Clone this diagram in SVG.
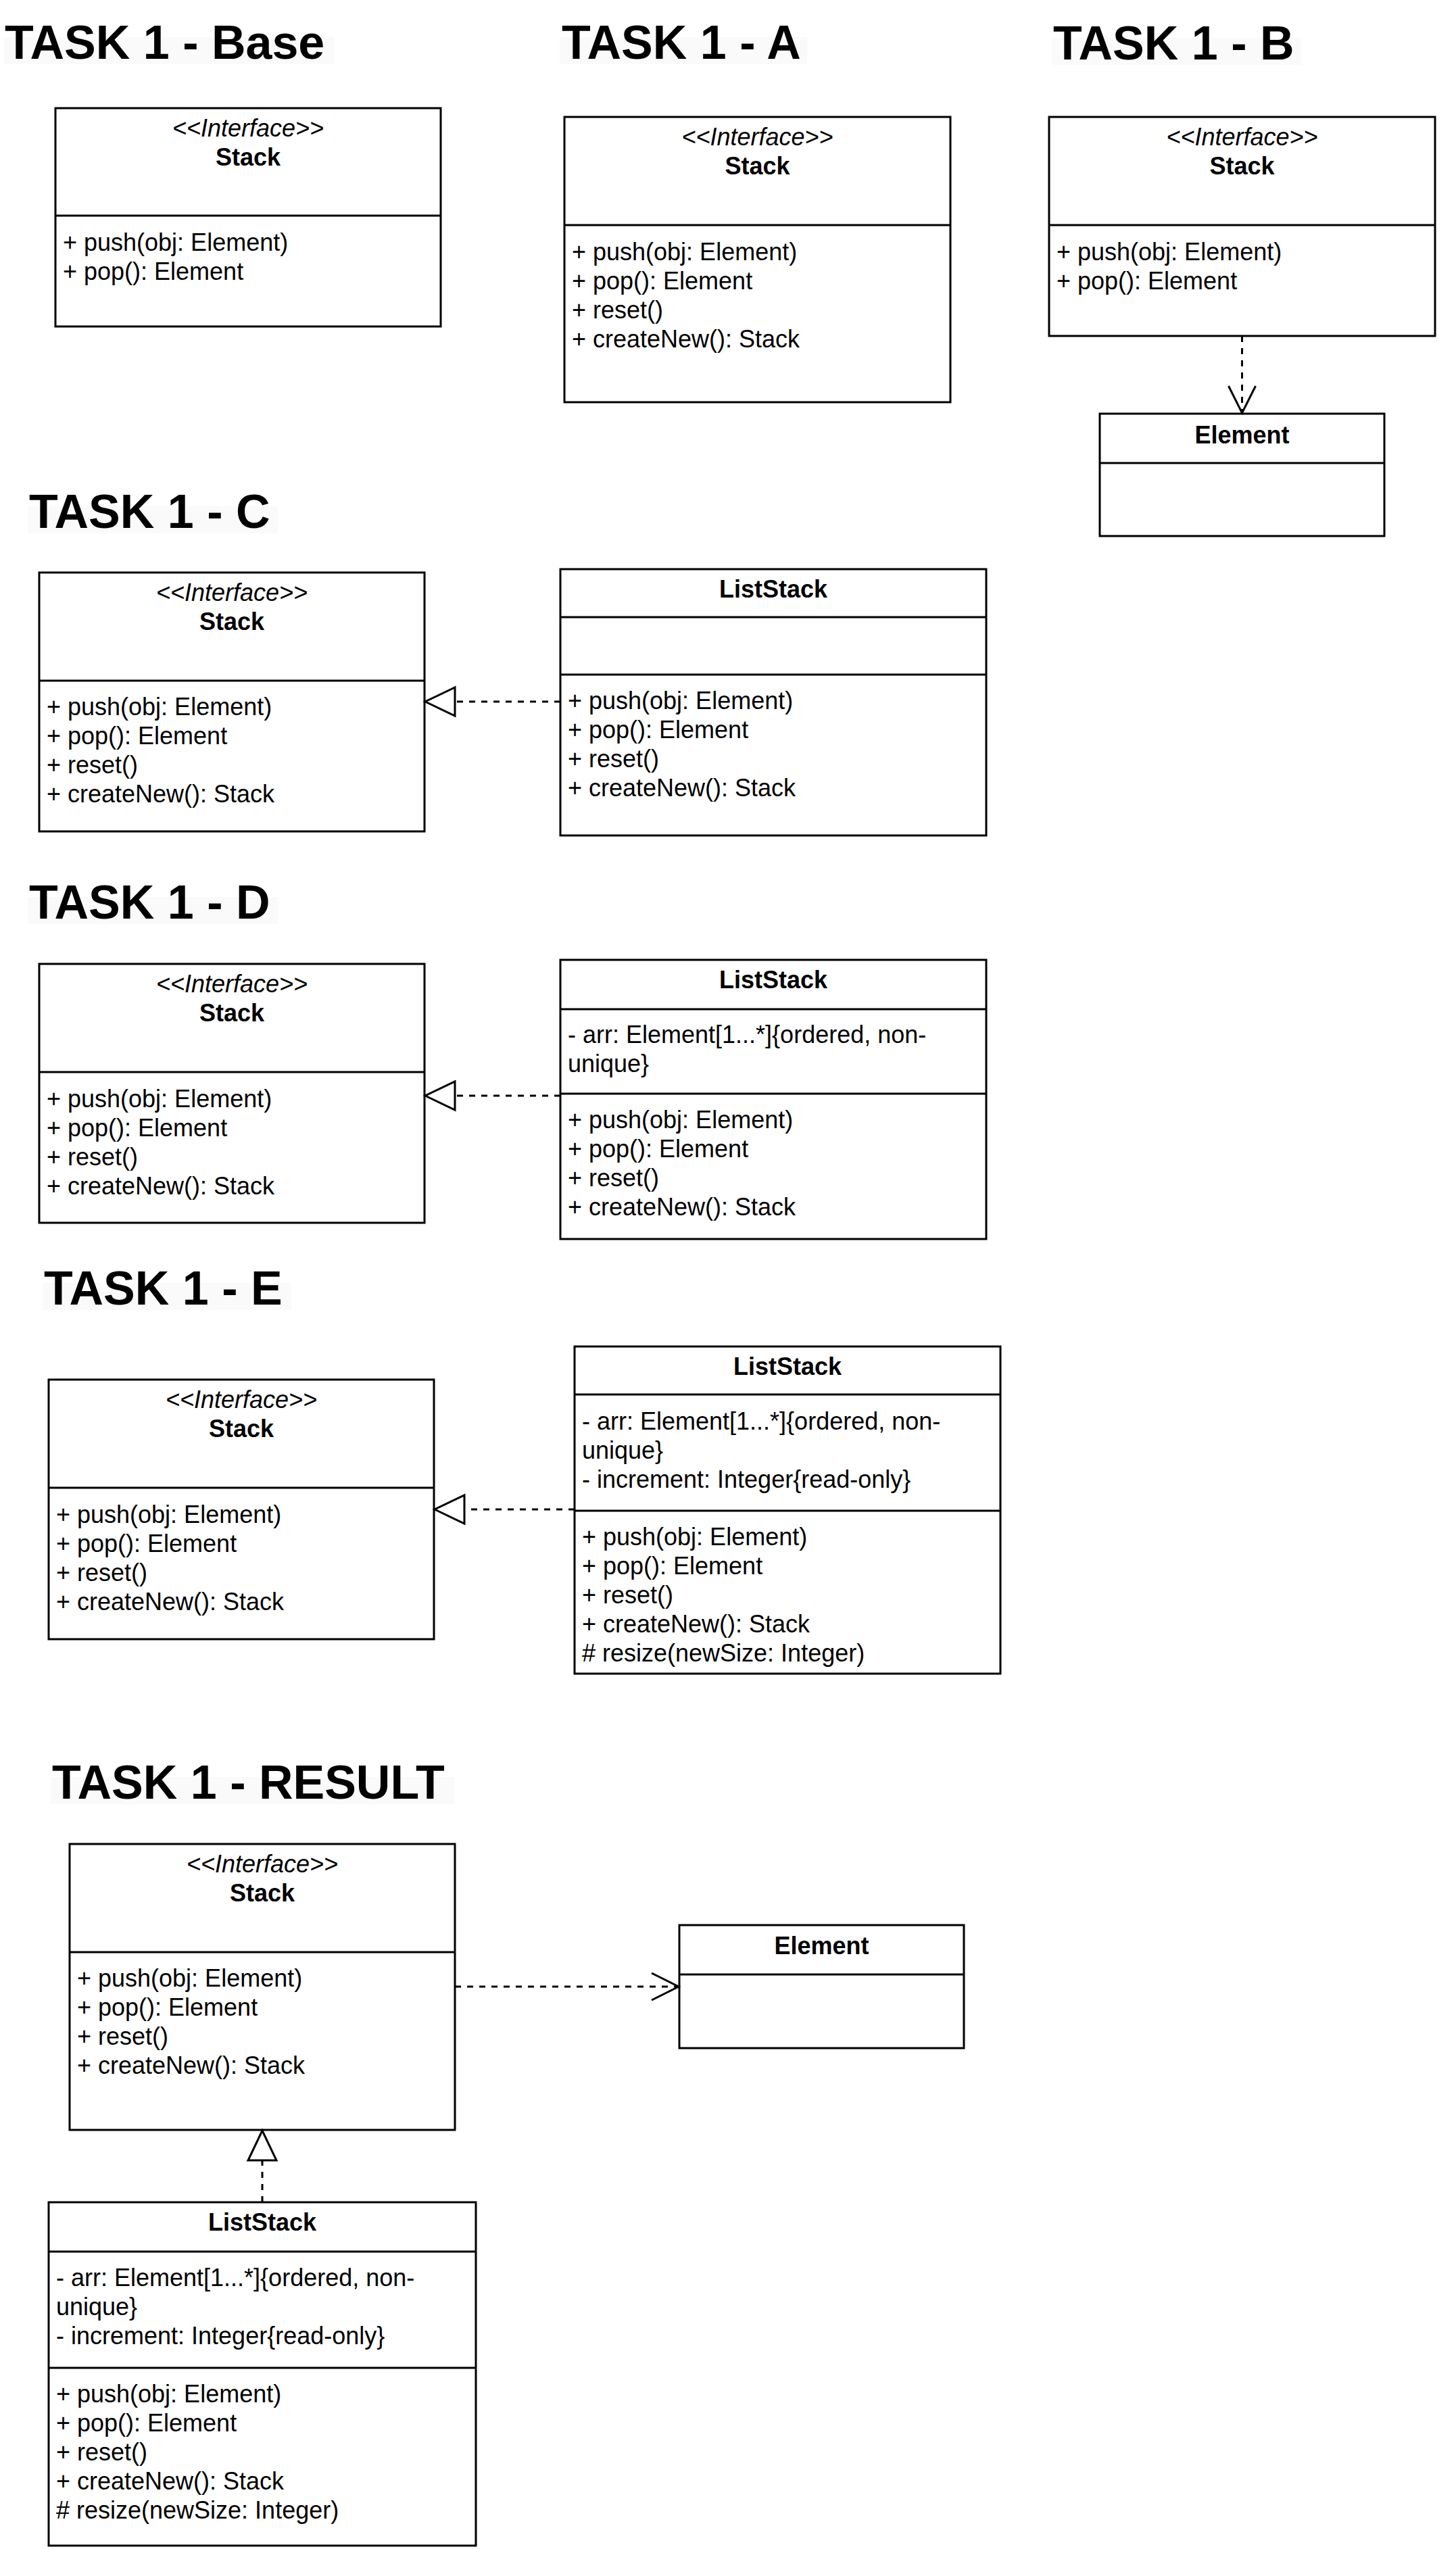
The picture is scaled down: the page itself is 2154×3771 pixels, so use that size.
<svg xmlns="http://www.w3.org/2000/svg" width="2154" height="3771" viewBox="0 0 2154 3771">
<style>
text{font-family:"Liberation Sans",Arial,sans-serif;fill:#000}
.title{font-size:70px;font-weight:bold}
.tbg{fill:#fafafa}
.box{fill:#fff;stroke:#000;stroke-width:3}
.div{stroke:#000;stroke-width:3}
.st{font-size:36px;font-style:italic;text-anchor:middle}
.nm{font-size:36px;font-weight:bold;text-anchor:middle}
.it{font-size:36px}
.dash{fill:none;stroke:#000;stroke-width:3;stroke-dasharray:9 9}
</style>
<defs>
<marker id="tri" markerUnits="userSpaceOnUse" markerWidth="54" markerHeight="54" viewBox="-49 -27 54 54" refX="0" refY="0" orient="auto">
<path d="M0,0 L-44,-21 L-44,21 Z" fill="#fff" stroke="#000" stroke-width="3"/>
</marker>
<marker id="open" markerUnits="userSpaceOnUse" markerWidth="54" markerHeight="54" viewBox="-49 -27 54 54" refX="0" refY="0" orient="auto">
<path d="M-40,-20 L0,0 L-40,20" fill="none" stroke="#000" stroke-width="3"/>
</marker>
</defs>
<rect width="2154" height="3771" fill="#fff"/>

<g id="titles">
<rect class="tbg" x="6" y="55" width="489" height="40"/>
<text class="title" x="7" y="87">TASK 1 - Base</text>
<rect class="tbg" x="828" y="55" width="366" height="40"/>
<text class="title" x="831" y="87">TASK 1 - A</text>
<rect class="tbg" x="1556" y="56" width="369" height="40"/>
<text class="title" x="1558" y="88">TASK 1 - B</text>
<rect class="tbg" x="41" y="749" width="370" height="40"/>
<text class="title" x="43" y="781">TASK 1 - C</text>
<rect class="tbg" x="41" y="1327" width="370" height="40"/>
<text class="title" x="43" y="1359">TASK 1 - D</text>
<rect class="tbg" x="63" y="1898" width="368" height="40"/>
<text class="title" x="65" y="1930">TASK 1 - E</text>
<rect class="tbg" x="75" y="2629" width="598" height="40"/>
<text class="title" x="77" y="2661">TASK 1 - RESULT</text>
</g>

<g id="base-stack">
<rect class="box" x="82" y="160" width="570" height="323"/>
<line class="div" x1="82" y1="319" x2="652" y2="319"/>
<text class="st" x="367" y="202">&lt;&lt;Interface&gt;&gt;</text>
<text class="nm" x="367" y="245">Stack</text>
<text class="it" x="93" y="371">+ push(obj: Element)</text>
<text class="it" x="93" y="414">+ pop(): Element</text>
</g>

<g id="a-stack">
<rect class="box" x="835" y="173" width="571" height="422"/>
<line class="div" x1="835" y1="333" x2="1406" y2="333"/>
<text class="st" x="1120.5" y="215">&lt;&lt;Interface&gt;&gt;</text>
<text class="nm" x="1120.5" y="258">Stack</text>
<text class="it" x="846" y="385">+ push(obj: Element)</text>
<text class="it" x="846" y="428">+ pop(): Element</text>
<text class="it" x="846" y="471">+ reset()</text>
<text class="it" x="846" y="514">+ createNew(): Stack</text>
</g>

<g id="b-stack">
<rect class="box" x="1552" y="173" width="571" height="324"/>
<line class="div" x1="1552" y1="333" x2="2123" y2="333"/>
<text class="st" x="1837.5" y="215">&lt;&lt;Interface&gt;&gt;</text>
<text class="nm" x="1837.5" y="258">Stack</text>
<text class="it" x="1563" y="385">+ push(obj: Element)</text>
<text class="it" x="1563" y="428">+ pop(): Element</text>
</g>

<g id="b-element">
<rect class="box" x="1627" y="612" width="421" height="181"/>
<line class="div" x1="1627" y1="685" x2="2048" y2="685"/>
<text class="nm" x="1837.5" y="656">Element</text>
</g>

<g id="c-stack">
<rect class="box" x="58" y="847" width="570" height="383"/>
<line class="div" x1="58" y1="1007" x2="628" y2="1007"/>
<text class="st" x="343" y="889">&lt;&lt;Interface&gt;&gt;</text>
<text class="nm" x="343" y="932">Stack</text>
<text class="it" x="69" y="1058">+ push(obj: Element)</text>
<text class="it" x="69" y="1101">+ pop(): Element</text>
<text class="it" x="69" y="1144">+ reset()</text>
<text class="it" x="69" y="1187">+ createNew(): Stack</text>
</g>

<g id="c-liststack">
<rect class="box" x="829" y="842" width="630" height="394"/>
<line class="div" x1="829" y1="913" x2="1459" y2="913"/>
<line class="div" x1="829" y1="998" x2="1459" y2="998"/>
<text class="nm" x="1144" y="884">ListStack</text>
<text class="it" x="840" y="1049">+ push(obj: Element)</text>
<text class="it" x="840" y="1092">+ pop(): Element</text>
<text class="it" x="840" y="1135">+ reset()</text>
<text class="it" x="840" y="1178">+ createNew(): Stack</text>
</g>

<g id="d-stack">
<rect class="box" x="58" y="1426" width="570" height="383"/>
<line class="div" x1="58" y1="1586" x2="628" y2="1586"/>
<text class="st" x="343" y="1468">&lt;&lt;Interface&gt;&gt;</text>
<text class="nm" x="343" y="1511">Stack</text>
<text class="it" x="69" y="1638">+ push(obj: Element)</text>
<text class="it" x="69" y="1681">+ pop(): Element</text>
<text class="it" x="69" y="1724">+ reset()</text>
<text class="it" x="69" y="1767">+ createNew(): Stack</text>
</g>

<g id="d-liststack">
<rect class="box" x="829" y="1420" width="630" height="413"/>
<line class="div" x1="829" y1="1493" x2="1459" y2="1493"/>
<line class="div" x1="829" y1="1618" x2="1459" y2="1618"/>
<text class="nm" x="1144" y="1462">ListStack</text>
<text class="it" x="840" y="1543">- arr: Element[1...*]{ordered, non-</text>
<text class="it" x="840" y="1586">unique}</text>
<text class="it" x="840" y="1669">+ push(obj: Element)</text>
<text class="it" x="840" y="1712">+ pop(): Element</text>
<text class="it" x="840" y="1755">+ reset()</text>
<text class="it" x="840" y="1798">+ createNew(): Stack</text>
</g>

<g id="e-stack">
<rect class="box" x="72" y="2041" width="570" height="384"/>
<line class="div" x1="72" y1="2201" x2="642" y2="2201"/>
<text class="st" x="357" y="2083">&lt;&lt;Interface&gt;&gt;</text>
<text class="nm" x="357" y="2126">Stack</text>
<text class="it" x="83" y="2253">+ push(obj: Element)</text>
<text class="it" x="83" y="2296">+ pop(): Element</text>
<text class="it" x="83" y="2339">+ reset()</text>
<text class="it" x="83" y="2382">+ createNew(): Stack</text>
</g>

<g id="e-liststack">
<rect class="box" x="850" y="1992" width="630" height="484"/>
<line class="div" x1="850" y1="2063" x2="1480" y2="2063"/>
<line class="div" x1="850" y1="2235" x2="1480" y2="2235"/>
<text class="nm" x="1165" y="2034">ListStack</text>
<text class="it" x="861" y="2115">- arr: Element[1...*]{ordered, non-</text>
<text class="it" x="861" y="2158">unique}</text>
<text class="it" x="861" y="2201">- increment: Integer{read-only}</text>
<text class="it" x="861" y="2286">+ push(obj: Element)</text>
<text class="it" x="861" y="2329">+ pop(): Element</text>
<text class="it" x="861" y="2372">+ reset()</text>
<text class="it" x="861" y="2415">+ createNew(): Stack</text>
<text class="it" x="861" y="2458"># resize(newSize: Integer)</text>
</g>

<g id="result-stack">
<rect class="box" x="103" y="2728" width="570" height="423"/>
<line class="div" x1="103" y1="2888" x2="673" y2="2888"/>
<text class="st" x="388" y="2770">&lt;&lt;Interface&gt;&gt;</text>
<text class="nm" x="388" y="2813">Stack</text>
<text class="it" x="114" y="2939">+ push(obj: Element)</text>
<text class="it" x="114" y="2982">+ pop(): Element</text>
<text class="it" x="114" y="3025">+ reset()</text>
<text class="it" x="114" y="3068">+ createNew(): Stack</text>
</g>

<g id="result-element">
<rect class="box" x="1005" y="2848" width="421" height="182"/>
<line class="div" x1="1005" y1="2921" x2="1426" y2="2921"/>
<text class="nm" x="1215.5" y="2891">Element</text>
</g>

<g id="result-liststack">
<rect class="box" x="72" y="3258" width="632" height="508"/>
<line class="div" x1="72" y1="3331" x2="704" y2="3331"/>
<line class="div" x1="72" y1="3503" x2="704" y2="3503"/>
<text class="nm" x="388" y="3300">ListStack</text>
<text class="it" x="83" y="3382">- arr: Element[1...*]{ordered, non-</text>
<text class="it" x="83" y="3425">unique}</text>
<text class="it" x="83" y="3468">- increment: Integer{read-only}</text>
<text class="it" x="83" y="3554">+ push(obj: Element)</text>
<text class="it" x="83" y="3597">+ pop(): Element</text>
<text class="it" x="83" y="3640">+ reset()</text>
<text class="it" x="83" y="3683">+ createNew(): Stack</text>
<text class="it" x="83" y="3726"># resize(newSize: Integer)</text>
</g>

<g id="connectors">
<path class="dash" d="M1837.5,497 L1837.5,611" marker-end="url(#open)"/>
<path class="dash" d="M829,1038 L629,1038" marker-end="url(#tri)"/>
<path class="dash" d="M829,1621 L629,1621" marker-end="url(#tri)"/>
<path class="dash" d="M850,2233 L643,2233" marker-end="url(#tri)"/>
<path class="dash" d="M673,2939 L1004,2939" marker-end="url(#open)"/>
<path class="dash" d="M388,3258 L388,3152" marker-end="url(#tri)"/>
</g>
</svg>
